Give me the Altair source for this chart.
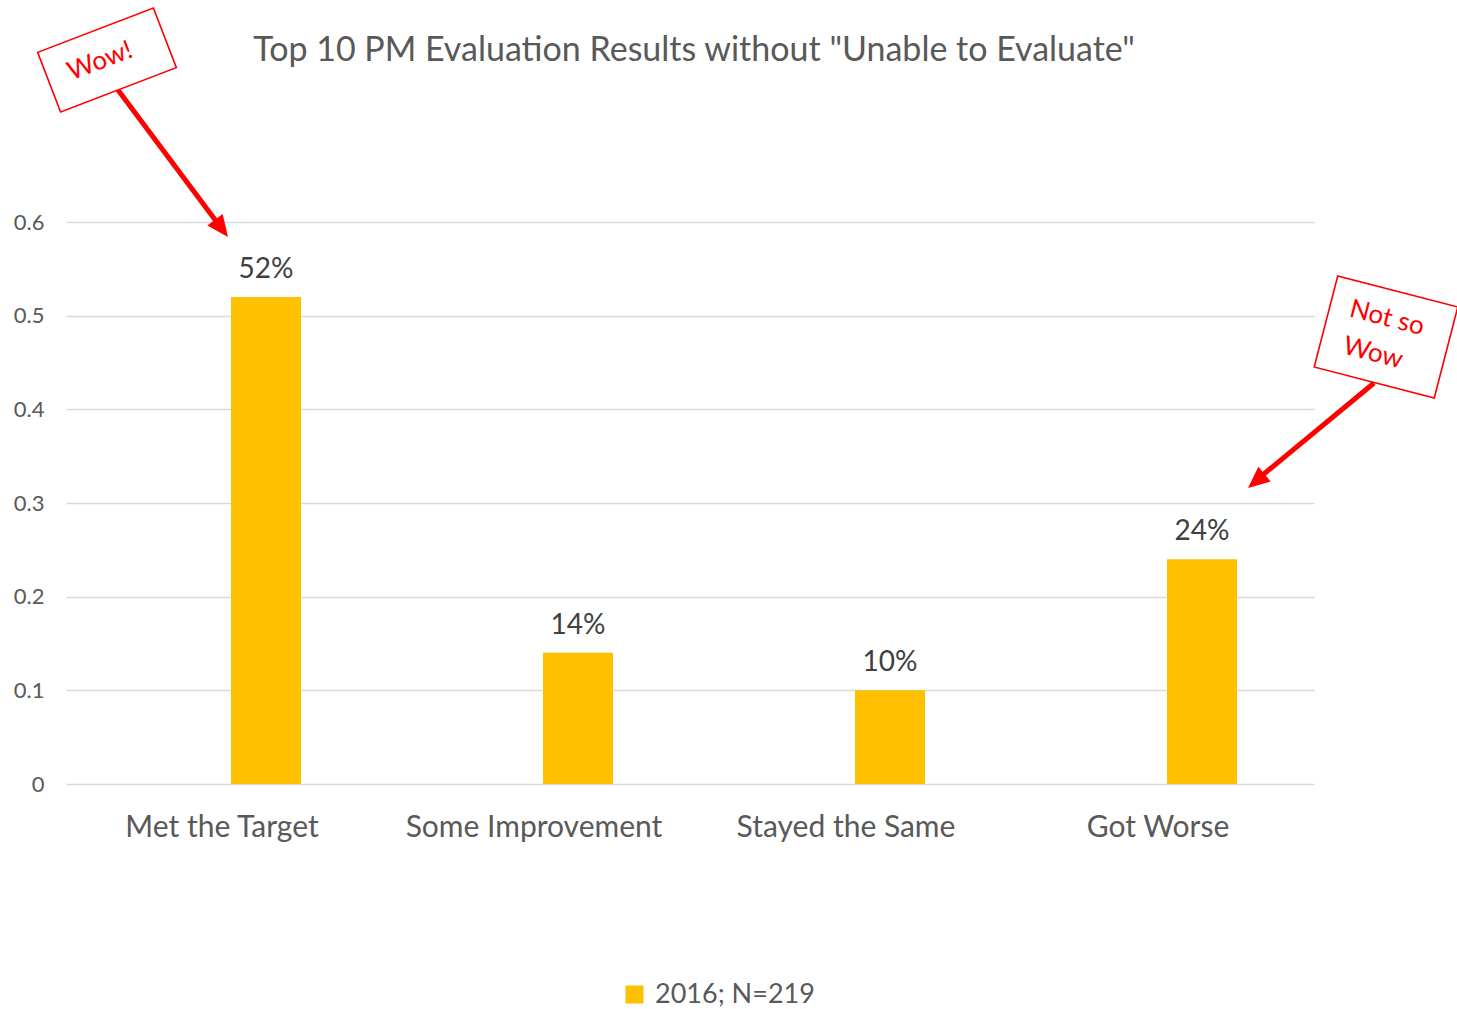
import altair as alt
import pandas as pd

categories = ["Met the Target", "Some Improvement", "Stayed the Same", "Got Worse"]
values = [0.52, 0.14, 0.10, 0.24]
labels = ["52%", "14%", "10%", "24%"]
series = "2016; N=219"
title_text = 'Top 10 PM Evaluation Results without "Unable to Evaluate"'
y_ticks = [0, 0.1, 0.2, 0.3, 0.4, 0.5, 0.6]

FONT = "Lato"
RED = "#FF0000"

df = pd.DataFrame({"category": categories, "value": values, "label": labels, "series": [series] * 4})
one = pd.DataFrame({"a": [0]})

x_enc = alt.X("category:N", sort=categories, title=None,
              scale=alt.Scale(paddingInner=0, paddingOuter=0),
              axis=alt.Axis(labelAngle=0, domain=False, ticks=False, labelFontSize=30,
                            labelColor="#595959", labelPadding=28, labelFont=FONT, labelLimit=0))
y_enc = alt.Y("value:Q", title=None, scale=alt.Scale(domain=[0, 0.6], nice=False),
              axis=alt.Axis(values=y_ticks, domain=False, ticks=False, grid=True,
                            gridColor="#d9d9d9", gridWidth=1.5, labelFontSize=22,
                            labelColor="#595959", labelPadding=22, labelFont=FONT,
                            labelExpr="datum.value == 0 ? '0' : format(datum.value, '.1f')"))

bars = alt.Chart(df).mark_bar(xOffset=44, size=70).encode(
    x=x_enc, y=y_enc,
    color=alt.Color("series:N", scale=alt.Scale(range=["#FFC000"]),
                    legend=alt.Legend(title=None, orient="none", legendX=555, legendY=759,
                                      symbolType="square", symbolSize=324, symbolStrokeWidth=0,
                                      labelFontSize=27, labelColor="#595959", labelFont=FONT,
                                      labelOffset=7)),
)

texts = alt.Chart(df).mark_text(xOffset=44, dy=-13, baseline="bottom", fontSize=28,
                                color="#404040", font=FONT).encode(
    x=alt.X("category:N", sort=categories), y="value:Q", text="label:N")

title = alt.Chart(one).mark_text(text=title_text, fontSize=34, color="#595959", font=FONT,
                                 baseline="middle", align="center").encode(
    x=alt.value(628), y=alt.value(-171))

# annotation: box 1 "Wow!"
box1 = alt.Chart(one).mark_point(
    shape="M-1,-0.516L1,-0.516L1,0.516L-1,0.516Z", size=15376, angle=339,
    filled=False, fill="white", fillOpacity=1, stroke=RED, strokeWidth=1.6, opacity=1
).encode(x=alt.value(41), y=alt.value(-162))
txt1 = alt.Chart(one).mark_text(text="Wow!", angle=339, fontSize=26, color=RED, font=FONT,
                                baseline="middle").encode(x=alt.value(34), y=alt.value(-161))
arrow1 = alt.Chart(one).mark_rule(color=RED, strokeWidth=5).encode(
    x=alt.value(52), y=alt.value(-132), x2=alt.value(153), y2=alt.value(3))
head1 = alt.Chart(one).mark_point(
    shape="M0,0L0.8,1.8L-0.8,1.8Z", size=576, angle=143, filled=True, color=RED, opacity=1
).encode(x=alt.value(162), y=alt.value(15))

# annotation: box 2 "Not so Wow"
box2 = alt.Chart(one).mark_point(
    shape="M-1,-0.758L1,-0.758L1,0.758L-1,0.758Z", size=15376, angle=14.5,
    filled=False, fill="white", fillOpacity=1, stroke=RED, strokeWidth=1.6, opacity=1
).encode(x=alt.value(1320), y=alt.value(115))
txt2a = alt.Chart(one).mark_text(text="Not so", angle=14.5, fontSize=26, color=RED, font=FONT,
                                 baseline="middle").encode(x=alt.value(1321), y=alt.value(96))
txt2b = alt.Chart(one).mark_text(text="Wow", angle=14.5, fontSize=26, color=RED, font=FONT,
                                 baseline="middle").encode(x=alt.value(1307), y=alt.value(131))
arrow2 = alt.Chart(one).mark_rule(color=RED, strokeWidth=5).encode(
    x=alt.value(1308), y=alt.value(161), x2=alt.value(1193), y2=alt.value(256))
head2 = alt.Chart(one).mark_point(
    shape="M0,0L0.8,1.8L-0.8,1.8Z", size=576, angle=230, filled=True, color=RED, opacity=1
).encode(x=alt.value(1182), y=alt.value(266))

chart = alt.layer(bars, texts, title, arrow1, head1, box1, txt1, arrow2, head2, box2, txt2a, txt2b).properties(
    width=1248, height=562,
    background="white",
    autosize=alt.AutoSizeParams(type="none"),
    padding={"left": 66, "top": 222, "right": 143, "bottom": 225},
).configure_view(stroke=None)

chart.save("out.html", embed_options={"renderer": "svg", "actions": False})
